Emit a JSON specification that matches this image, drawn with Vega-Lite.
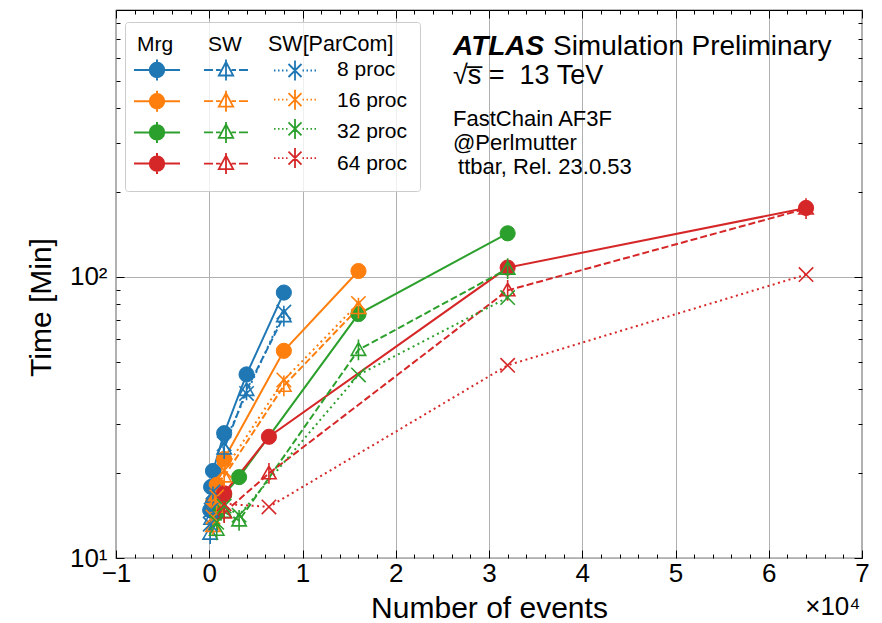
{
  "$schema": "https://vega.github.io/schema/vega-lite/v6.json",
  "width": 746,
  "height": 548,
  "autosize": "none",
  "padding": {"left": 116, "top": 10, "right": 20, "bottom": 65},
  "background": "white",
  "config": {
    "font": "Liberation Sans",
    "view": {"stroke": "black", "strokeWidth": 1.2},
    "axis": {"labelColor": "black", "titleColor": "black", "tickColor": "black", "titleFontWeight": "normal", "labelFont": "Liberation Sans", "titleFont": "Liberation Sans"},
    "legend": {"titleFontWeight": "normal", "titleColor": "black", "labelColor": "black", "titleFont": "Liberation Sans", "labelFont": "Liberation Sans"}
  },
  "data": {
    "values": [
      {"proc": "8 proc", "type": "Mrg", "events": 100, "time": 14.8},
      {"proc": "8 proc", "type": "Mrg", "events": 200, "time": 17.9},
      {"proc": "8 proc", "type": "Mrg", "events": 400, "time": 20.4},
      {"proc": "8 proc", "type": "Mrg", "events": 1600, "time": 27.8},
      {"proc": "8 proc", "type": "Mrg", "events": 4000, "time": 45},
      {"proc": "8 proc", "type": "Mrg", "events": 8000, "time": 88},
      {"proc": "8 proc", "type": "SW", "events": 100, "time": 12.2},
      {"proc": "8 proc", "type": "SW", "events": 200, "time": 13.8},
      {"proc": "8 proc", "type": "SW", "events": 400, "time": 16.5},
      {"proc": "8 proc", "type": "SW", "events": 1600, "time": 24.5},
      {"proc": "8 proc", "type": "SW", "events": 4000, "time": 39.6},
      {"proc": "8 proc", "type": "SW", "events": 8000, "time": 72.5},
      {"proc": "8 proc", "type": "ParCom", "events": 100, "time": 13.2},
      {"proc": "8 proc", "type": "ParCom", "events": 200, "time": 14.8},
      {"proc": "8 proc", "type": "ParCom", "events": 400, "time": 17.2},
      {"proc": "8 proc", "type": "ParCom", "events": 1600, "time": 25.5},
      {"proc": "8 proc", "type": "ParCom", "events": 4000, "time": 38.5},
      {"proc": "8 proc", "type": "ParCom", "events": 8000, "time": 75},
      {"proc": "16 proc", "type": "Mrg", "events": 400, "time": 15.8},
      {"proc": "16 proc", "type": "Mrg", "events": 800, "time": 18.2},
      {"proc": "16 proc", "type": "Mrg", "events": 1600, "time": 22.5},
      {"proc": "16 proc", "type": "Mrg", "events": 8000, "time": 54.6},
      {"proc": "16 proc", "type": "Mrg", "events": 16000, "time": 105},
      {"proc": "16 proc", "type": "SW", "events": 400, "time": 13},
      {"proc": "16 proc", "type": "SW", "events": 800, "time": 15.2},
      {"proc": "16 proc", "type": "SW", "events": 1600, "time": 19.5},
      {"proc": "16 proc", "type": "SW", "events": 8000, "time": 41},
      {"proc": "16 proc", "type": "SW", "events": 16000, "time": 77.5},
      {"proc": "16 proc", "type": "ParCom", "events": 400, "time": 14},
      {"proc": "16 proc", "type": "ParCom", "events": 800, "time": 16.5},
      {"proc": "16 proc", "type": "ParCom", "events": 1600, "time": 20.5},
      {"proc": "16 proc", "type": "ParCom", "events": 8000, "time": 43},
      {"proc": "16 proc", "type": "ParCom", "events": 16000, "time": 80.5},
      {"proc": "32 proc", "type": "Mrg", "events": 800, "time": 14.5},
      {"proc": "32 proc", "type": "Mrg", "events": 1600, "time": 16.8},
      {"proc": "32 proc", "type": "Mrg", "events": 3200, "time": 19.4},
      {"proc": "32 proc", "type": "Mrg", "events": 16000, "time": 73.8},
      {"proc": "32 proc", "type": "Mrg", "events": 32000, "time": 143},
      {"proc": "32 proc", "type": "SW", "events": 800, "time": 12.6},
      {"proc": "32 proc", "type": "SW", "events": 1600, "time": 14.6},
      {"proc": "32 proc", "type": "SW", "events": 3200, "time": 13.6},
      {"proc": "32 proc", "type": "SW", "events": 16000, "time": 55},
      {"proc": "32 proc", "type": "SW", "events": 32000, "time": 107},
      {"proc": "32 proc", "type": "ParCom", "events": 800, "time": 13.4},
      {"proc": "32 proc", "type": "ParCom", "events": 1600, "time": 15.3},
      {"proc": "32 proc", "type": "ParCom", "events": 3200, "time": 14.2},
      {"proc": "32 proc", "type": "ParCom", "events": 16000, "time": 44.8},
      {"proc": "32 proc", "type": "ParCom", "events": 32000, "time": 84.5},
      {"proc": "64 proc", "type": "Mrg", "events": 1600, "time": 17},
      {"proc": "64 proc", "type": "Mrg", "events": 6400, "time": 27},
      {"proc": "64 proc", "type": "Mrg", "events": 32000, "time": 108},
      {"proc": "64 proc", "type": "Mrg", "events": 64000, "time": 176},
      {"proc": "64 proc", "type": "SW", "events": 1600, "time": 14.5},
      {"proc": "64 proc", "type": "SW", "events": 6400, "time": 20},
      {"proc": "64 proc", "type": "SW", "events": 32000, "time": 89.6},
      {"proc": "64 proc", "type": "SW", "events": 64000, "time": 175},
      {"proc": "64 proc", "type": "ParCom", "events": 1600, "time": 15.6},
      {"proc": "64 proc", "type": "ParCom", "events": 6400, "time": 15.2},
      {"proc": "64 proc", "type": "ParCom", "events": 32000, "time": 48.5},
      {"proc": "64 proc", "type": "ParCom", "events": 64000, "time": 102}
    ]
  },
  "resolve": {
    "scale": {"color": "independent", "fill": "independent", "stroke": "independent"},
    "axis": {"x": "independent", "y": "independent"}
  },
  "layer": [
    {
      "transform": [{"filter": "datum.type == 'Mrg'"}],
      "mark": {"type": "line", "strokeWidth": 2, "opacity": 1},
      "encoding": {
        "x": {"field": "events", "type": "quantitative", "scale": {"domain": [-10000, 70000], "nice": false, "zero": false},
          "axis": {"orient": "bottom", "values": [-10000, 0, 10000, 20000, 30000, 40000, 50000, 60000, 70000], "tickSize": -8, "tickWidth": 1, "domain": false, "grid": true, "gridColor": "#b0b0b0", "gridWidth": 1, "gridOpacity": 1,
            "labelExpr": "datum.value < 0 ? '\u2212' + format(-datum.value / 10000, 'd') : format(datum.value / 10000, 'd')",
            "labelFontSize": 26, "labelPadding": 10, "labelOverlap": false, "labelFlush": false,
            "title": "Number of events", "titleFontSize": 30, "titleX": 373, "titleY": 59, "titleBaseline": "alphabetic", "titleAlign": "center", "titleAnchor": null}},
        "y": {"field": "time", "type": "quantitative", "scale": {"type": "log", "domain": [10, 891], "nice": false},
          "axis": {"orient": "left", "values": [10, 100], "tickSize": -8, "tickWidth": 1, "domain": false, "grid": true, "gridColor": "#b0b0b0", "gridWidth": 1, "gridOpacity": 1,
            "labelExpr": "datum.value == 10 ? '10\u00b9' : '10\u00b2'", "labelFontSize": 26, "labelPadding": 17, "labelOverlap": false, "labelFlush": false, "labelBaseline": "middle",
            "title": "Time [Min]", "titleFontSize": 30, "titleAngle": -90, "titleX": -66, "titleY": 297, "titleBaseline": "alphabetic", "titleAlign": "center", "titleAnchor": null}},
        "color": {"field": "proc", "type": "nominal", "scale": {"domain": ["8 proc", "16 proc", "32 proc", "64 proc"], "range": ["#1f77b4", "#ff7f0e", "#2ca02c", "#d62728"]}, "legend": null}
      }
    },
    {
      "transform": [{"filter": "datum.type == 'SW'"}],
      "mark": {"type": "line", "strokeWidth": 2, "strokeDash": [7, 3], "opacity": 1},
      "encoding": {
        "x": {"field": "events", "type": "quantitative", "scale": {"domain": [-10000, 70000], "nice": false, "zero": false},
          "axis": {"orient": "top", "values": [-10000, 0, 10000, 20000, 30000, 40000, 50000, 60000, 70000], "tickSize": -8, "tickWidth": 1, "domain": false, "grid": false, "labels": false, "title": null}},
        "y": {"field": "time", "type": "quantitative", "scale": {"type": "log", "domain": [10, 891], "nice": false},
          "axis": {"orient": "right", "values": [10, 100], "tickSize": -8, "tickWidth": 1, "domain": false, "grid": false, "labels": false, "title": null}},
        "color": {"field": "proc", "type": "nominal", "scale": {"domain": ["8 proc", "16 proc", "32 proc", "64 proc"], "range": ["#1f77b4", "#ff7f0e", "#2ca02c", "#d62728"]}, "legend": null}
      }
    },
    {
      "transform": [{"filter": "datum.type == 'ParCom'"}],
      "mark": {"type": "line", "strokeWidth": 2, "strokeDash": [2, 3.5], "opacity": 1},
      "encoding": {
        "x": {"field": "events", "type": "quantitative", "scale": {"domain": [-10000, 70000], "nice": false, "zero": false},
          "axis": {"orient": "top", "values": [-8000, -6000, -4000, -2000, 2000, 4000, 6000, 8000, 12000, 14000, 16000, 18000, 22000, 24000, 26000, 28000, 32000, 34000, 36000, 38000, 42000, 44000, 46000, 48000, 52000, 54000, 56000, 58000, 62000, 64000, 66000, 68000], "tickSize": -4, "tickWidth": 1, "domain": false, "grid": false, "labels": false, "title": null}},
        "y": {"field": "time", "type": "quantitative", "scale": {"type": "log", "domain": [10, 891], "nice": false},
          "axis": {"orient": "right", "values": [20, 30, 40, 50, 60, 70, 80, 90, 200, 300, 400, 500, 600, 700, 800], "tickSize": -4, "tickWidth": 1, "domain": false, "grid": false, "labels": false, "title": null}},
        "color": {"field": "proc", "type": "nominal", "scale": {"domain": ["8 proc", "16 proc", "32 proc", "64 proc"], "range": ["#1f77b4", "#ff7f0e", "#2ca02c", "#d62728"]}, "legend": null}
      }
    },
    {
      "transform": [{"filter": "datum.type == 'Mrg'"}],
      "mark": {"type": "point", "shape": "circle", "filled": true, "size": 230, "strokeWidth": 1, "opacity": 1},
      "encoding": {
        "x": {"field": "events", "type": "quantitative", "scale": {"domain": [-10000, 70000], "nice": false, "zero": false},
          "axis": {"orient": "bottom", "values": [-8000, -6000, -4000, -2000, 2000, 4000, 6000, 8000, 12000, 14000, 16000, 18000, 22000, 24000, 26000, 28000, 32000, 34000, 36000, 38000, 42000, 44000, 46000, 48000, 52000, 54000, 56000, 58000, 62000, 64000, 66000, 68000], "tickSize": -4, "tickWidth": 1, "domain": false, "grid": false, "labels": false,
            "title": "\u00d710\u2074", "titleFontSize": 26, "titleX": 744, "titleY": 56, "titleAlign": "right", "titleBaseline": "alphabetic", "titleAnchor": null}},
        "y": {"field": "time", "type": "quantitative", "scale": {"type": "log", "domain": [10, 891], "nice": false},
          "axis": {"orient": "left", "values": [20, 30, 40, 50, 60, 70, 80, 90, 200, 300, 400, 500, 600, 700, 800], "tickSize": -4, "tickWidth": 1, "domain": false, "grid": false, "labels": false, "title": null}},
        "fill": {"field": "proc", "type": "nominal", "scale": {"domain": ["8 proc", "16 proc", "32 proc", "64 proc"], "range": ["#1f77b4", "#ff7f0e", "#2ca02c", "#d62728"]},
          "legend": {"orient": "none", "legendX": 9, "legendY": 12, "title": "\u00a0\u00a0Mrg", "titleFontSize": 21, "titlePadding": 4, "titleAnchor": "start",
            "padding": 12, "fillColor": "rgba(255,255,255,0.8)", "strokeColor": "#cccccc", "cornerRadius": 3,
            "symbolType": "M-2.3,0L2.3,0M0,-1.05L0,1.05M0.72,0A0.72,0.72,0,1,1,-0.72,0A0.72,0.72,0,1,1,0.72,0Z",
            "symbolSize": 400, "symbolStrokeWidth": 2, "symbolOffset": 9, "labelFontSize": 21, "labelOffset": 169, "rowPadding": 1.2}},
        "stroke": {"field": "proc", "type": "nominal", "scale": {"domain": ["8 proc", "16 proc", "32 proc", "64 proc"], "range": ["#1f77b4", "#ff7f0e", "#2ca02c", "#d62728"]},
          "legend": {"orient": "none", "legendX": 9, "legendY": 12, "title": "\u00a0\u00a0Mrg", "titleFontSize": 21, "titlePadding": 4, "titleAnchor": "start",
            "padding": 12, "fillColor": "rgba(255,255,255,0.8)", "strokeColor": "#cccccc", "cornerRadius": 3,
            "symbolType": "M-2.3,0L2.3,0M0,-1.05L0,1.05M0.72,0A0.72,0.72,0,1,1,-0.72,0A0.72,0.72,0,1,1,0.72,0Z",
            "symbolSize": 400, "symbolStrokeWidth": 2, "symbolOffset": 9, "labelFontSize": 21, "labelOffset": 169, "rowPadding": 1.2}}
      }
    },
    {
      "transform": [{"filter": "datum.type == 'SW'"}],
      "mark": {"type": "point", "shape": "M0,-0.8L0.8,0.6L-0.8,0.6ZM0,-1.15L0,1.15", "filled": false, "size": 324, "strokeWidth": 1.6, "opacity": 1},
      "encoding": {
        "x": {"field": "events", "type": "quantitative", "scale": {"domain": [-10000, 70000], "nice": false, "zero": false}, "axis": null},
        "y": {"field": "time", "type": "quantitative", "scale": {"type": "log", "domain": [10, 891], "nice": false}, "axis": null},
        "color": {"field": "proc", "type": "nominal", "scale": {"domain": ["8 proc", "16 proc", "32 proc", "64 proc"], "range": ["#1f77b4", "#ff7f0e", "#2ca02c", "#d62728"]},
          "legend": {"orient": "none", "legendX": 92, "legendY": 24, "title": "SW", "titleFontSize": 21, "titlePadding": 4, "titleAnchor": "start", "padding": 0,
            "symbolType": "M-2.2,0L-1.3,0M-1.0,0L-0.55,0M0.55,0L1.0,0M1.3,0L2.2,0M0,-1.05L0,1.05M0,-0.8L0.72,0.55L-0.72,0.55Z",
            "symbolSize": 400, "symbolStrokeWidth": 1.8, "symbolOffset": 7, "labelExpr": "''", "labelFontSize": 21, "labelOffset": 0, "rowPadding": 1.2}}
      }
    },
    {
      "transform": [{"filter": "datum.type == 'ParCom'"}],
      "mark": {"type": "point", "shape": "M-0.8,-0.8L0.8,0.8M-0.8,0.8L0.8,-0.8", "filled": false, "size": 324, "strokeWidth": 1.6, "opacity": 1},
      "encoding": {
        "x": {"field": "events", "type": "quantitative", "scale": {"domain": [-10000, 70000], "nice": false, "zero": false}, "axis": null},
        "y": {"field": "time", "type": "quantitative", "scale": {"type": "log", "domain": [10, 891], "nice": false}, "axis": null},
        "color": {"field": "proc", "type": "nominal", "scale": {"domain": ["8 proc", "16 proc", "32 proc", "64 proc"], "range": ["#1f77b4", "#ff7f0e", "#2ca02c", "#d62728"]},
          "legend": {"orient": "none", "legendX": 152, "legendY": 24, "title": "SW[ParCom]", "titleFontSize": 21.5, "titlePadding": 4, "titleAnchor": "start", "padding": 0,
            "symbolType": "M-2.1,0L-1.95,0M-1.7,0L-1.55,0M-1.3,0L-1.15,0M-0.9,0L-0.75,0M0.75,0L0.9,0M1.15,0L1.3,0M1.55,0L1.7,0M1.95,0L2.1,0M-0.65,-0.65L0.65,0.65M-0.65,0.65L0.65,-0.65M0,-1.0L0,1.0",
            "symbolSize": 400, "symbolStrokeWidth": 1.8, "symbolOffset": 16, "labelExpr": "''", "labelFontSize": 21, "labelOffset": 0, "rowPadding": 1.2}}
      }
    },
    {
      "data": {"values": [{}]},
      "mark": {"type": "text", "text": "ATLAS", "font": "Liberation Sans", "fontStyle": "italic", "fontWeight": "bold", "fontSize": 28, "align": "left", "baseline": "alphabetic", "color": "black"},
      "encoding": {
        "x": {"datum": 26140, "type": "quantitative", "axis": null},
        "y": {"datum": 618, "type": "quantitative", "axis": null}
      }
    },
    {
      "data": {"values": [{}]},
      "mark": {"type": "text", "text": "Simulation Preliminary", "font": "Liberation Sans", "fontSize": 28, "align": "left", "baseline": "alphabetic", "color": "black"},
      "encoding": {
        "x": {"datum": 36860, "type": "quantitative", "axis": null},
        "y": {"datum": 618, "type": "quantitative", "axis": null}
      }
    },
    {
      "data": {"values": [{}]},
      "mark": {"type": "text", "text": "\u221as\u0305 =\u00a0\u00a013 TeV", "font": "Liberation Sans", "fontSize": 27, "align": "left", "baseline": "alphabetic", "color": "black"},
      "encoding": {
        "x": {"datum": 26140, "type": "quantitative", "axis": null},
        "y": {"datum": 484, "type": "quantitative", "axis": null}
      }
    },
    {
      "data": {"values": [{}]},
      "mark": {"type": "text", "text": "FastChain AF3F", "font": "Liberation Sans", "fontSize": 22, "align": "left", "baseline": "alphabetic", "color": "black"},
      "encoding": {
        "x": {"datum": 26140, "type": "quantitative", "axis": null},
        "y": {"datum": 344, "type": "quantitative", "axis": null}
      }
    },
    {
      "data": {"values": [{}]},
      "mark": {"type": "text", "text": "@Perlmutter", "font": "Liberation Sans", "fontSize": 22, "align": "left", "baseline": "alphabetic", "color": "black"},
      "encoding": {
        "x": {"datum": 26140, "type": "quantitative", "axis": null},
        "y": {"datum": 283, "type": "quantitative", "axis": null}
      }
    },
    {
      "data": {"values": [{}]},
      "mark": {"type": "text", "text": "ttbar, Rel. 23.0.53", "font": "Liberation Sans", "fontSize": 22, "align": "left", "baseline": "alphabetic", "color": "black"},
      "encoding": {
        "x": {"datum": 26680, "type": "quantitative", "axis": null},
        "y": {"datum": 233, "type": "quantitative", "axis": null}
      }
    }
  ]
}
